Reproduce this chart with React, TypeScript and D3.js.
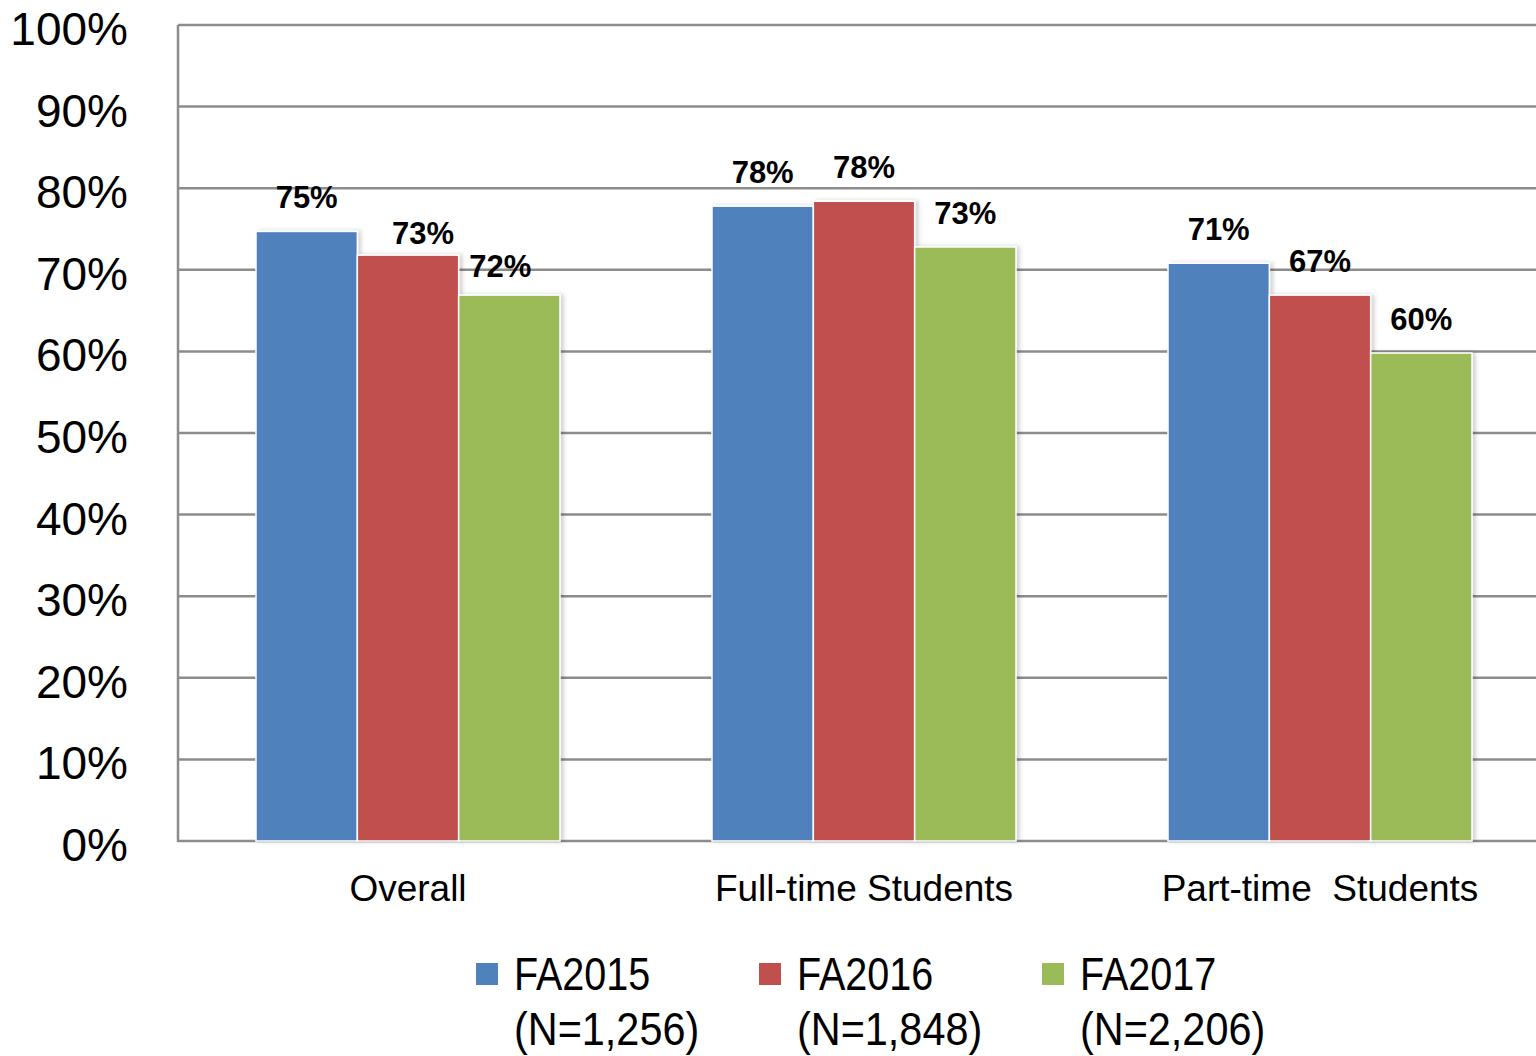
import { useEffect, useRef } from "react";
import * as d3 from "d3";

const categories = ["Overall", "Full-time Students", "Part-time  Students"];
const seriesNames = ["FA2015", "FA2016", "FA2017"];
const seriesN = ["(N=1,256)", "(N=1,848)", "(N=2,206)"];
const fa2015 = [74.7, 77.8, 70.8];
const fa2016 = [71.8, 78.4, 66.9];
const fa2017 = [66.9, 72.8, 59.8];
const labels2015 = ["75%", "78%", "71%"];
const labels2016 = ["73%", "78%", "67%"];
const labels2017 = ["72%", "73%", "60%"];
const yTicks = [0, 10, 20, 30, 40, 50, 60, 70, 80, 90, 100];

const colors = ["#4f81bd", "#c0504d", "#9bbb59"];

export default function App() {
  const svgRef = useRef<SVGSVGElement | null>(null);

  useEffect(() => {
    const width = 1536;
    const height = 1056;
    const left = 178;
    const top = 25;
    const bottom = 841;

    const svg = d3.select(svgRef.current);
    svg.selectAll("*").remove();
    svg.attr("width", width).attr("height", height).style("background", "#fff");

    const defs = svg.append("defs");
    const f = defs
      .append("filter")
      .attr("id", "shadow")
      .attr("x", "-10%")
      .attr("y", "-10%")
      .attr("width", "130%")
      .attr("height", "120%");
    f.append("feDropShadow")
      .attr("dx", 3)
      .attr("dy", 0)
      .attr("stdDeviation", 2)
      .attr("flood-color", "#000")
      .attr("flood-opacity", 0.18);

    const x0 = d3
      .scaleBand()
      .domain(categories)
      .range([180, 180 + 456 * 3])
      .paddingInner(1 / 3)
      .paddingOuter(1 / 6);

    const x1 = d3.scaleBand().domain(seriesNames).range([0, x0.bandwidth()]);

    const y = d3.scaleLinear().domain([0, 100]).range([bottom, top]);

    // gridlines
    svg
      .append("g")
      .selectAll("line")
      .data(yTicks)
      .enter()
      .append("line")
      .attr("x1", left)
      .attr("x2", width)
      .attr("y1", (d) => y(d))
      .attr("y2", (d) => y(d))
      .attr("stroke", "#8c8c8c")
      .attr("stroke-width", 2.5);

    svg
      .append("line")
      .attr("x1", left)
      .attr("x2", left)
      .attr("y1", top)
      .attr("y2", bottom + 1)
      .attr("stroke", "#8c8c8c")
      .attr("stroke-width", 2.5);

    // y tick labels
    svg
      .append("g")
      .selectAll("text")
      .data(yTicks)
      .enter()
      .append("text")
      .attr("x", 128)
      .attr("y", (d) => y(d) + 20)
      .attr("text-anchor", "end")
      .style("font-family", "'Liberation Sans', Arial, sans-serif")
      .style("font-size", "46px")
      .attr("fill", "#000")
      .text((d) => d + "%");

    const series = [fa2015, fa2016, fa2017];
    const labelSets = [labels2015, labels2016, labels2017];
    // manual nudges for the value labels [dx, dy]
    const nudge = [
      [[0, 0], [0, 0], [0, 0]],
      [[15, 12], [0, 0], [0, 0]],
      [[-9, 5], [0, 0], [0, 0]],
    ];

    series.forEach((vals, si) => {
      const g = svg.append("g");
      g.selectAll("rect")
        .data(vals)
        .enter()
        .append("rect")
        .attr("x", (d, i) => (x0(categories[i]) as number) + (x1(seriesNames[si]) as number))
        .attr("y", (d) => y(d))
        .attr("width", x1.bandwidth())
        .attr("height", (d) => bottom - y(d))
        .attr("fill", colors[si])
        .attr("stroke", "#fff")
        .attr("stroke-width", 1.5)
        .attr("filter", "url(#shadow)");

      g.selectAll("text")
        .data(vals)
        .enter()
        .append("text")
        .attr(
          "x",
          (d, i) =>
            (x0(categories[i]) as number) +
            (x1(seriesNames[si]) as number) +
            x1.bandwidth() / 2 +
            nudge[si][i][0]
        )
        .attr("y", (d, i) => y(d) - 23 + nudge[si][i][1])
        .attr("text-anchor", "middle")
        .style("font-family", "'Liberation Sans', Arial, sans-serif")
        .style("font-size", "31px")
        .style("font-weight", "bold")
        .attr("fill", "#000")
        .text((d, i) => labelSets[si][i]);
    });

    // category labels
    svg
      .append("g")
      .selectAll("text")
      .data(categories)
      .enter()
      .append("text")
      .attr("x", (d) => (x0(d) as number) + x0.bandwidth() / 2)
      .attr("y", 901)
      .attr("text-anchor", "middle")
      .attr("xml:space", "preserve")
      .style("white-space", "pre")
      .style("font-family", "'Liberation Sans', Arial, sans-serif")
      .style("font-size", "37px")
      .attr("fill", "#000")
      .text((d) => d);

    // legend
    const legend = svg
      .append("g")
      .selectAll("g")
      .data(seriesNames)
      .enter()
      .append("g")
      .attr("transform", (d, i) => `translate(${476 + i * 283}, 0)`);

    legend
      .append("rect")
      .attr("x", 0)
      .attr("y", 963)
      .attr("width", 22)
      .attr("height", 22)
      .attr("fill", (d, i) => colors[i]);

    legend
      .append("text")
      .attr("transform", "translate(38, 990) scale(0.86, 1)")
      .style("font-family", "'Liberation Sans', sans-serif")
      .style("font-size", "46px")
      .attr("fill", "#000")
      .text((d) => d);

    legend
      .append("text")
      .attr("transform", "translate(38, 1045) scale(0.9, 1)")
      .style("font-family", "'Liberation Sans', sans-serif")
      .style("font-size", "46px")
      .attr("fill", "#000")
      .text((d, i) => seriesN[i]);
  }, []);

  return (
    <svg
      ref={svgRef}
      style={{ position: "absolute", left: 0, top: 0, display: "block" }}
    ></svg>
  );
}
